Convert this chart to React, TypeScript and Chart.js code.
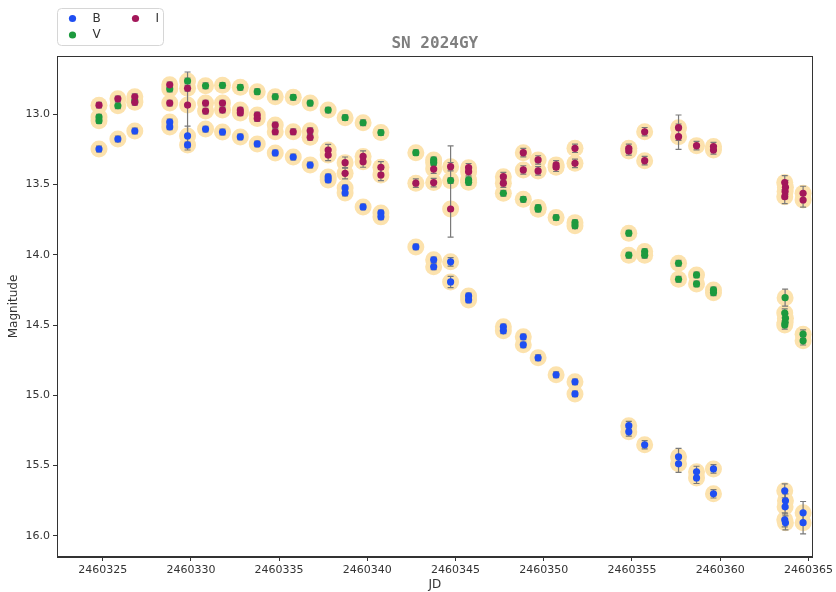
import React, { useEffect, useRef } from 'react';
import { Chart, registerables } from 'chart.js';

Chart.register(...registerables);

// ---- Data (JD, magnitude, error) ----
const B_JD = [
  2460324.79, 2460325.86, 2460326.82, 2460328.80, 2460328.80, 2460329.81, 2460329.81,
  2460330.83, 2460331.79, 2460332.80, 2460333.76, 2460334.78, 2460335.80, 2460336.76,
  2460337.78, 2460337.78, 2460338.74, 2460338.74, 2460339.76, 2460340.77, 2460340.77,
  2460342.75, 2460343.76, 2460343.76, 2460344.72, 2460344.72, 2460345.74, 2460345.74,
  2460347.71, 2460347.71, 2460348.84, 2460348.84, 2460349.68, 2460350.70, 2460351.77,
  2460351.77, 2460354.82, 2460354.82, 2460355.72, 2460357.64, 2460357.64, 2460358.66,
  2460358.66, 2460359.62, 2460359.62, 2460363.66, 2460363.70, 2460363.68, 2460363.66,
  2460363.70, 2460364.70, 2460364.70,
];
const B_MAG = [
  13.247, 13.176, 13.119, 13.055, 13.090, 13.154, 13.218,
  13.105, 13.126, 13.161, 13.211, 13.275, 13.304, 13.361,
  13.446, 13.467, 13.524, 13.560, 13.659, 13.702, 13.730,
  13.944, 14.036, 14.085, 14.050, 14.193, 14.293, 14.321,
  14.513, 14.541, 14.584, 14.641, 14.733, 14.854, 14.904,
  14.990, 15.216, 15.260, 15.352, 15.438, 15.488, 15.545,
  15.588, 15.524, 15.701, 15.680, 15.751, 15.794, 15.886,
  15.908, 15.836, 15.907,
];
const B_ERR: (number | [number, number])[] = [
  0.02, 0.02, 0.02, 0.02, 0.02, 0.07, 0.02,
  0.02, 0.02, 0.02, 0.02, 0.02, 0.02, 0.02,
  0.02, 0.02, 0.02, 0.02, 0.02, 0.02, 0.02,
  0.02, 0.02, 0.02, 0.03, 0.04, 0.02, 0.02,
  0.02, 0.02, 0.02, 0.02, 0.02, 0.02, 0.02,
  0.02, 0.03, 0.03, 0.03, 0.06, 0.06, 0.04,
  0.04, 0.03, 0.03, 0.05, 0.05, 0.05, 0.05,
  0.05, 0.08, 0.08,
];

const V_JD = [
  2460324.79, 2460324.79, 2460325.86, 2460326.82, 2460328.80, 2460329.81, 2460330.83,
  2460331.79, 2460332.80, 2460333.76, 2460334.78, 2460335.80, 2460336.76, 2460337.78,
  2460338.74, 2460339.76, 2460340.77, 2460342.75, 2460343.76, 2460343.76, 2460344.72,
  2460345.74, 2460345.74, 2460347.71, 2460348.84, 2460349.68, 2460349.68, 2460350.70,
  2460351.77, 2460351.77, 2460354.82, 2460354.82, 2460355.72, 2460355.72, 2460357.64,
  2460357.64, 2460358.66, 2460358.66, 2460359.62, 2460359.62, 2460363.68, 2460363.66,
  2460363.70, 2460363.68, 2460363.66, 2460364.70, 2460364.70,
];
const V_MAG = [
  13.020, 13.045, 12.939, 12.905, 12.820, 12.763, 12.797,
  12.794, 12.808, 12.839, 12.875, 12.879, 12.920, 12.970,
  13.024, 13.060, 13.130, 13.273, 13.325, 13.344, 13.472,
  13.467, 13.484, 13.562, 13.605, 13.664, 13.675, 13.735,
  13.771, 13.794, 13.846, 14.003, 13.977, 14.003, 14.060,
  14.174, 14.143, 14.207, 14.250, 14.270, 14.305, 14.415,
  14.451, 14.482, 14.499, 14.565, 14.612,
];
const V_ERR: (number | [number, number])[] = [
  0.02, 0.02, 0.02, 0.02, 0.02, 0.02, 0.02,
  0.02, 0.02, 0.02, 0.02, 0.02, 0.02, 0.02,
  0.02, 0.02, 0.02, 0.02, 0.02, 0.02, 0.02,
  0.02, 0.02, 0.02, 0.02, 0.02, 0.02, 0.02,
  0.02, 0.02, 0.02, 0.02, 0.02, 0.02, 0.02,
  0.02, 0.02, 0.02, 0.02, 0.02, 0.06, 0.03,
  0.03, 0.03, 0.03, 0.03, 0.03,
];

const I_JD = [
  2460324.79, 2460325.86, 2460326.82, 2460326.82, 2460328.80, 2460328.80, 2460329.81,
  2460329.81, 2460330.83, 2460330.83, 2460331.79, 2460331.79, 2460332.80, 2460332.80,
  2460333.76, 2460333.76, 2460334.78, 2460334.78, 2460335.80, 2460336.76, 2460336.76,
  2460337.78, 2460337.78, 2460338.74, 2460338.74, 2460339.76, 2460339.76, 2460340.77,
  2460340.77, 2460342.75, 2460343.76, 2460343.76, 2460344.72, 2460344.72, 2460345.74,
  2460345.74, 2460347.71, 2460347.71, 2460348.84, 2460348.84, 2460349.68, 2460349.68,
  2460350.70, 2460350.70, 2460351.77, 2460351.77, 2460354.82, 2460354.82, 2460355.72,
  2460355.72, 2460357.64, 2460357.64, 2460358.66, 2460359.62, 2460359.62, 2460363.66,
  2460363.70, 2460363.68, 2460363.66, 2460364.70, 2460364.70,
];
const I_MAG = [
  12.935, 12.890, 12.875, 12.915, 12.790, 12.920, 12.815,
  12.934, 12.920, 12.977, 12.920, 12.970, 12.970, 12.990,
  13.005, 13.030, 13.076, 13.124, 13.124, 13.117, 13.164,
  13.254, 13.290, 13.344, 13.420, 13.300, 13.337, 13.377,
  13.432, 13.490, 13.390, 13.486, 13.373, 13.674, 13.380,
  13.408, 13.444, 13.490, 13.273, 13.396, 13.325, 13.403,
  13.360, 13.377, 13.242, 13.349, 13.242, 13.261, 13.124,
  13.330, 13.095, 13.159, 13.223, 13.230, 13.254, 13.486,
  13.520, 13.550, 13.586, 13.562, 13.610,
];
const I_ERR: (number | [number, number])[] = [
  0.02, 0.02, 0.02, 0.02, 0.02, 0.02, 0.02,
  [0.235, 0.32], 0.02, 0.02, 0.02, 0.02, 0.02, 0.02,
  0.02, 0.02, 0.02, 0.02, 0.02, 0.02, 0.02,
  0.04, 0.04, 0.04, 0.04, 0.04, 0.04, 0.04,
  0.04, 0.03, 0.03, 0.03, 0.03, [0.45, 0.2], 0.03,
  0.03, 0.03, 0.03, 0.03, 0.03, 0.03, 0.03,
  0.03, 0.03, 0.03, 0.03, 0.03, 0.03, 0.03,
  0.03, 0.09, 0.09, 0.03, 0.03, 0.03, 0.05,
  0.05, 0.05, 0.05, 0.05, 0.05,
];

const TITLE = 'SN 2024GY';
const X_LABEL = 'JD';
const Y_LABEL = 'Magnitude';
const X_MIN = 2460322.41;
const X_MAX = 2460365.24;
const Y_MIN = 12.585;
const Y_MAX = 16.151;

const COLORS = { B: '#1f4ef2', V: '#1c9a3e', I: '#a3175a' };
const HALO = '#fce2ad';

type Series = { name: string; jd: number[]; mag: number[]; err: (number | [number, number])[]; color: string };
const SERIES: Series[] = [
  { name: 'B', jd: B_JD, mag: B_MAG, err: B_ERR, color: COLORS.B },
  { name: 'V', jd: V_JD, mag: V_MAG, err: V_ERR, color: COLORS.V },
  { name: 'I', jd: I_JD, mag: I_MAG, err: I_ERR, color: COLORS.I },
];

const toPoints = (s: Series) => s.jd.map((x, i) => ({ x, y: s.mag[i] }));

const errorBarPlugin = {
  id: 'errorBars',
  afterDatasetDraw(chart: any, args: any) {
    const ds = chart.data.datasets[args.index];
    if (!ds.isHalo) return;
    const { ctx, scales } = chart;
    ctx.save();
    ctx.strokeStyle = '#7a7a7a';
    ctx.lineWidth = 1.2;
    for (const s of SERIES) {
      s.jd.forEach((x, i) => {
        const e = s.err[i];
        const lo = Array.isArray(e) ? e[0] : e;
        const hi = Array.isArray(e) ? e[1] : e;
        const px = scales.x.getPixelForValue(x);
        const y1 = scales.y.getPixelForValue(s.mag[i] - lo);
        const y2 = scales.y.getPixelForValue(s.mag[i] + hi);
        ctx.beginPath();
        ctx.moveTo(px, y1);
        ctx.lineTo(px, y2);
        ctx.moveTo(px - 3, y1);
        ctx.lineTo(px + 3, y1);
        ctx.moveTo(px - 3, y2);
        ctx.lineTo(px + 3, y2);
        ctx.stroke();
      });
    }
    ctx.restore();
  },
};

const decorPlugin = {
  id: 'decor',
  afterDraw(chart: any) {
    const { ctx, chartArea } = chart;
    ctx.save();
    // frame
    ctx.strokeStyle = '#333';
    ctx.lineWidth = 1;
    ctx.strokeRect(
      Math.round(chartArea.left) + 0.5,
      Math.round(chartArea.top) + 0.5,
      Math.round(chartArea.right - chartArea.left) - 1,
      Math.round(chartArea.bottom - chartArea.top) - 1
    );
    // title
    ctx.fillStyle = '#7f7f7f';
    ctx.font = 'bold 16px "DejaVu Sans Mono"';
    ctx.textAlign = 'center';
    ctx.textBaseline = 'middle';
    ctx.fillText(TITLE, (chartArea.left + chartArea.right) / 2, 44);
    // legend
    const bx = 57.5, by = 8.5, bw = 106, bh = 37, r = 4;
    ctx.beginPath();
    ctx.moveTo(bx + r, by);
    ctx.lineTo(bx + bw - r, by);
    ctx.arcTo(bx + bw, by, bx + bw, by + r, r);
    ctx.lineTo(bx + bw, by + bh - r);
    ctx.arcTo(bx + bw, by + bh, bx + bw - r, by + bh, r);
    ctx.lineTo(bx + r, by + bh);
    ctx.arcTo(bx, by + bh, bx, by + bh - r, r);
    ctx.lineTo(bx, by + r);
    ctx.arcTo(bx, by, bx + r, by, r);
    ctx.closePath();
    ctx.fillStyle = '#ffffff';
    ctx.fill();
    ctx.strokeStyle = '#d6d6d6';
    ctx.stroke();
    const items = [
      { s: SERIES[0], x: 72.5, y: 18.5 },
      { s: SERIES[2], x: 135.5, y: 18.5 },
      { s: SERIES[1], x: 72.5, y: 35 },
    ];
    ctx.font = '12px "DejaVu Sans"';
    ctx.textAlign = 'left';
    for (const it of items) {
      ctx.beginPath();
      ctx.arc(it.x, it.y, 3.6, 0, Math.PI * 2);
      ctx.fillStyle = it.s.color;
      ctx.fill();
      ctx.fillStyle = '#333';
      ctx.fillText(it.s.name, it.x + 20, it.y);
    }
    ctx.restore();
  },
};

export default function App() {
  const canvasRef = useRef<HTMLCanvasElement | null>(null);

  useEffect(() => {
    if (!canvasRef.current) return;
    const haloData = SERIES.flatMap(toPoints);
    const dotSets = SERIES.map((s, k) => ({
      label: s.name,
      data: toPoints(s),
      backgroundColor: s.color,
      borderWidth: 0,
      pointRadius: 3.6,
      pointHoverRadius: 3.6,
      showLine: false,
      order: 3 - (k === 2 ? 2 : k === 1 ? 1 : 0),
    }));
    const chart = new Chart(canvasRef.current, {
      type: 'scatter',
      data: {
        datasets: [
          ...dotSets,
          {
            label: 'halo',
            isHalo: true,
            data: haloData,
            backgroundColor: HALO,
            borderWidth: 0,
            pointRadius: 8.5,
            pointHoverRadius: 8.5,
            showLine: false,
            order: 10,
          } as any,
        ],
      },
      options: {
        animation: false,
        responsive: true,
        maintainAspectRatio: false,
        events: [],
        layout: { padding: { left: 0, right: 21, top: 56, bottom: 0 } },
        plugins: {
          legend: { display: false },
          tooltip: { enabled: false },
          title: { display: false },
        },
        scales: {
          x: {
            type: 'linear',
            min: X_MIN,
            max: X_MAX,
            afterFit: (scale: any) => { scale.height = 35; },
            ticks: {
              stepSize: 5,
              includeBounds: false,
              autoSkip: false,
              maxRotation: 0,
              padding: 3,
              color: '#333',
              font: { family: 'DejaVu Sans', size: 11 },
              callback: (v: any) => String(v),
            },
            grid: { drawOnChartArea: false, drawTicks: true, tickLength: 4, color: '#333' },
            border: { display: true, color: '#333' },
            title: {
              display: true,
              text: X_LABEL,
              color: '#333',
              font: { family: 'DejaVu Sans', size: 12 },
              padding: { top: 0, bottom: 0 },
            },
          },
          y: {
            type: 'linear',
            reverse: true,
            min: Y_MIN,
            max: Y_MAX,
            afterFit: (scale: any) => { scale.width = 57; },
            ticks: {
              stepSize: 0.5,
              includeBounds: false,
              padding: 3,
              color: '#333',
              font: { family: 'DejaVu Sans', size: 11 },
              callback: (v: any) => Number(v).toFixed(1),
            },
            grid: { drawOnChartArea: false, drawTicks: true, tickLength: 4, color: '#333' },
            border: { display: true, color: '#333' },
            title: {
              display: true,
              text: Y_LABEL,
              color: '#333',
              font: { family: 'DejaVu Sans', size: 12 },
              padding: { top: 7, bottom: 0 },
            },
          },
        },
      } as any,
      plugins: [errorBarPlugin, decorPlugin],
    });
    return () => chart.destroy();
  }, []);

  return (
    <div style={{ position: 'absolute', left: 0, top: 0, width: 836, height: 592, background: '#fff' }}>
      <canvas ref={canvasRef} />
    </div>
  );
}
